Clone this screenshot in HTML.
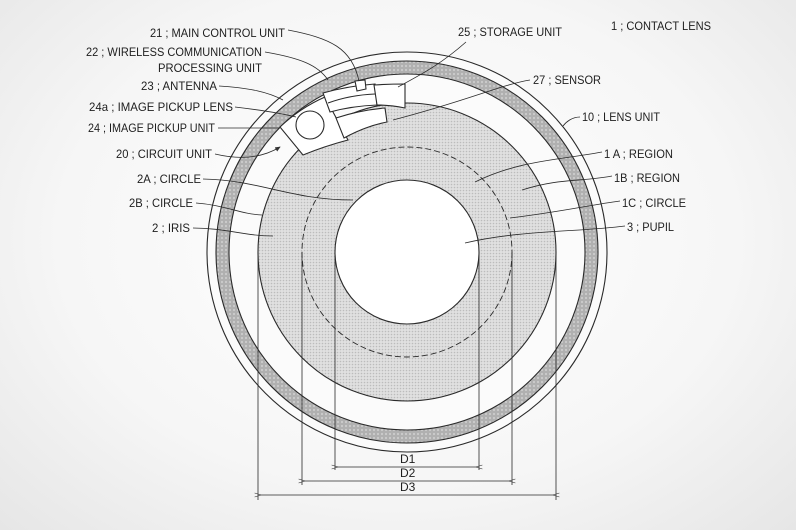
<!DOCTYPE html>
<html><head><meta charset="utf-8"><style>
html,body{margin:0;padding:0;}
body{width:796px;height:530px;overflow:hidden;background:radial-gradient(ellipse at 50% 45%,#ffffff 0%,#f6f6f6 60%,#e6e6e6 100%);}
svg{display:block;}
text{font-family:"Liberation Sans",sans-serif;font-size:12px;fill:#1e1e1e;}
</style></head><body>
<svg width="796" height="530" viewBox="0 0 796 530" xmlns="http://www.w3.org/2000/svg">
<defs>
<pattern id="dots" width="3" height="3" patternUnits="userSpaceOnUse">
<rect width="3" height="3" fill="#e0e0e0"/><circle cx="1.5" cy="1.5" r="0.8" fill="#bcbcbc"/>
</pattern>
<pattern id="band" width="4" height="4" patternUnits="userSpaceOnUse">
<rect width="4" height="4" fill="#b0b0b0"/><circle cx="2" cy="2" r="1.1" fill="#cccccc"/>
</pattern>
<marker id="ar" markerWidth="8" markerHeight="8" refX="6" refY="3" orient="auto"><path d="M0,0 L7,3 L0,6 Z" fill="#333"/></marker>
<marker id="ae" markerWidth="10" markerHeight="8" refX="0" refY="3" orient="auto-start-reverse"><path d="M0,3 L8,0.5 M0,3 L8,5.5" stroke="#333" stroke-width="0.8" fill="none"/></marker>
</defs>
<g stroke="#2a2a2a" stroke-width="1.1" fill="none">
<circle cx="407" cy="252" r="200" fill="#fbfbfb"/>
<circle cx="407" cy="252" r="184.5" stroke="url(#band)" stroke-width="13"/>
<circle cx="407" cy="252" r="191"/>
<circle cx="407" cy="252" r="178"/>
<circle cx="407" cy="252" r="149" fill="url(#dots)"/>
<circle cx="407" cy="252" r="105" stroke-dasharray="6,3" stroke-width="0.9"/>
<circle cx="407" cy="252" r="72" fill="#fff"/>
<!-- components -->
<path d="M280,127 Q300,108 325,97 L348,140 Q325,146 303,155 Z" fill="#fff"/>
<circle cx="310" cy="125" r="14" fill="#fff"/>
<path d="M323,93 Q348,86 375,84 L377,105 Q352,106 330,112 Z" fill="#fff"/>
<path d="M374,85 Q390,84 405,84 L405,108 Q390,105 377,105 Z" fill="#fff"/>
<path d="M355,81 L365,80 L366,89 L357,91 Z" fill="#fff"/>
<path d="M336,118 Q360,110 385,108 L387,122 Q366,126 344,138 Z" fill="#fff"/>
<path d="M328,103 Q350,95 375,94"/>
<!-- D dims -->
<path d="M335,252 V470 M479,252 V470 M302,252 V485 M512,252 V485 M258,252 V500 M556,252 V500" stroke-width="0.8"/>
<path d="M338,467 H476" stroke-width="0.8" marker-start="url(#ae)" marker-end="url(#ae)"/>
<path d="M305,481 H509" stroke-width="0.8" marker-start="url(#ae)" marker-end="url(#ae)"/>
<path d="M261,495 H553" stroke-width="0.8" marker-start="url(#ae)" marker-end="url(#ae)"/>
<!-- leaders -->
<g stroke-width="0.8">
<path d="M288,30 C330,38 352,48 359,81"/>
<path d="M265,52 C300,58 318,65 328,80"/>
<path d="M219,86 C250,88 268,92 283,100"/>
<path d="M235,107 C260,110 280,113 296,117"/>
<path d="M218,128 H279"/>
<path d="M215,154 C240,160 262,158 280,147" marker-end="url(#ar)"/>
<path d="M203,179 C260,180 290,200 353,200"/>
<path d="M196,203 C225,205 240,214 262,215"/>
<path d="M193,228 C225,228 245,236 273,236"/>
<path d="M466,42 C440,65 420,75 398,87"/>
<path d="M530,80 C500,85 470,100 393,120"/>
<path d="M580,117 C572,117 566,122 563,126"/>
<path d="M602,152 C560,160 520,160 475,182"/>
<path d="M612,176 C580,182 560,178 522,190"/>
<path d="M620,201 C590,205 560,212 510,218"/>
<path d="M625,226 C580,232 520,230 465,243"/>
</g>
</g>
<g>
<text x="150" y="37" textLength="135" lengthAdjust="spacingAndGlyphs">21 ; MAIN CONTROL UNIT</text>
<text x="86" y="56" textLength="176" lengthAdjust="spacingAndGlyphs">22 ; WIRELESS COMMUNICATION</text>
<text x="158" y="72" textLength="104" lengthAdjust="spacingAndGlyphs">PROCESSING UNIT</text>
<text x="141" y="90" textLength="76" lengthAdjust="spacingAndGlyphs">23 ; ANTENNA</text>
<text x="89" y="111" textLength="144" lengthAdjust="spacingAndGlyphs">24a ; IMAGE PICKUP LENS</text>
<text x="88" y="132" textLength="127" lengthAdjust="spacingAndGlyphs">24 ; IMAGE PICKUP UNIT</text>
<text x="116" y="158" textLength="96" lengthAdjust="spacingAndGlyphs">20 ; CIRCUIT UNIT</text>
<text x="137" y="183" textLength="64" lengthAdjust="spacingAndGlyphs">2A ; CIRCLE</text>
<text x="129" y="207" textLength="64" lengthAdjust="spacingAndGlyphs">2B ; CIRCLE</text>
<text x="152" y="232" textLength="38" lengthAdjust="spacingAndGlyphs">2 ; IRIS</text>
<text x="458" y="36" textLength="104" lengthAdjust="spacingAndGlyphs">25 ; STORAGE UNIT</text>
<text x="611" y="30" textLength="100" lengthAdjust="spacingAndGlyphs">1 ; CONTACT LENS</text>
<text x="533" y="84" textLength="68" lengthAdjust="spacingAndGlyphs">27 ; SENSOR</text>
<text x="582" y="121" textLength="78" lengthAdjust="spacingAndGlyphs">10 ; LENS UNIT</text>
<text x="604" y="158" textLength="69" lengthAdjust="spacingAndGlyphs">1 A ; REGION</text>
<text x="614" y="182" textLength="66" lengthAdjust="spacingAndGlyphs">1B ; REGION</text>
<text x="622" y="207" textLength="64" lengthAdjust="spacingAndGlyphs">1C ; CIRCLE</text>
<text x="627" y="231" textLength="47" lengthAdjust="spacingAndGlyphs">3 ; PUPIL</text>
<text x="400" y="463" font-size="11">D1</text>
<text x="400" y="477" font-size="11">D2</text>
<text x="400" y="491" font-size="11">D3</text>
</g>
</svg>
</body></html>
